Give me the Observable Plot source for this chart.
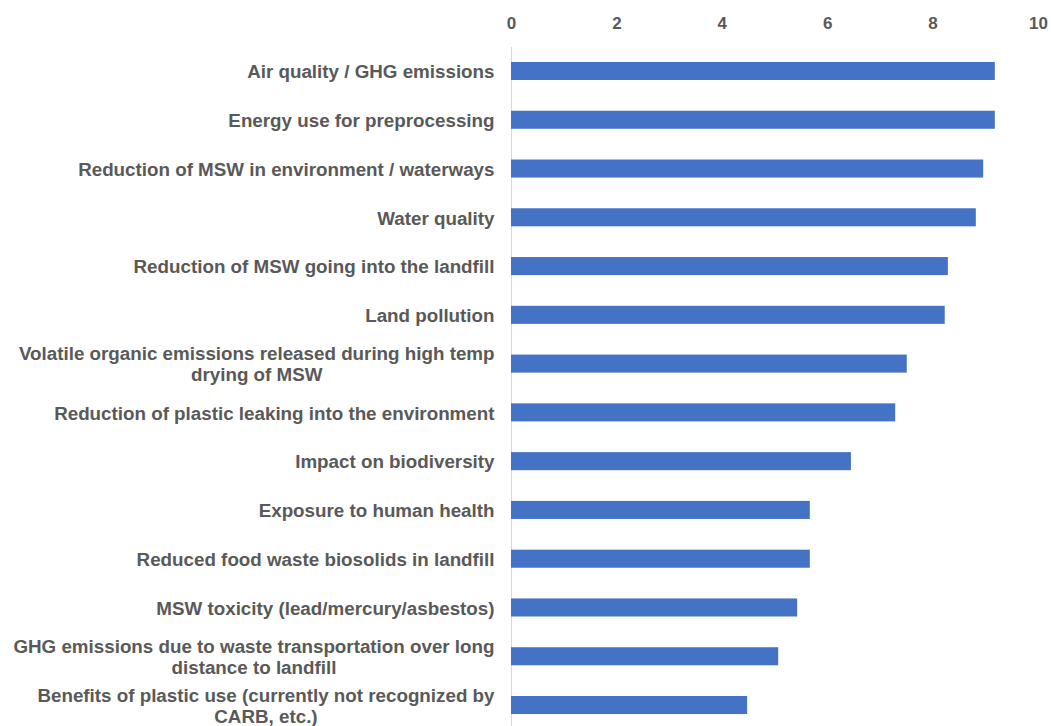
<!DOCTYPE html>
<html><head><meta charset="utf-8">
<script src="https://cdn.jsdelivr.net/npm/d3@7"></script>
<script src="https://cdn.jsdelivr.net/npm/@observablehq/plot@0.6"></script>
<style>body{margin:0;background:#fff;overflow:hidden}</style>
</head><body><div id="chart"></div>
<script>
const categories = [
  "Air quality / GHG emissions",
  "Energy use for preprocessing",
  "Reduction of MSW in environment / waterways",
  "Water quality",
  "Reduction of MSW going into the landfill",
  "Land pollution",
  "Volatile organic emissions released during high temp\ndrying of MSW",
  "Reduction of plastic leaking into the environment",
  "Impact on biodiversity",
  "Exposure to human health",
  "Reduced food waste biosolids in landfill",
  "MSW toxicity (lead/mercury/asbestos)",
  "GHG emissions due to waste transportation over long\ndistance to landfill",
  "Benefits of plastic use (currently not recognized by\nCARB, etc.)"
];
const values = [9.18, 9.18, 8.96, 8.82, 8.29, 8.23, 7.51, 7.29, 6.45, 5.67, 5.67, 5.43, 5.07, 4.48];
const xTicks = [0, 2, 4, 6, 8, 10];

const data = categories.map((c, i) => ({category: c, value: values[i]}));

const FS = 18.8;
const FAMILY = "'Liberation Sans', Arial, Helvetica, sans-serif";
const ctx = document.createElement("canvas").getContext("2d");
ctx.font = `bold ${FS}px ${FAMILY}`;
const maxLineWidth = s => Math.max(...s.split("\n").map(l => ctx.measureText(l).width));

const labelMarks = data.map(d => Plot.text([d], {
  x: 0, y: "category", text: "category",
  textAnchor: "middle", lineAnchor: "middle", lineHeight: 21 / FS,
  dx: -(17 + maxLineWidth(d.category) / 2),
  fill: "#595959", fontSize: FS, fontWeight: "bold"
}));

const chart = Plot.plot({
  width: 1051, height: 726,
  marginLeft: 511, marginRight: 13, marginTop: 47, marginBottom: 0,
  style: {fontFamily: FAMILY, fontWeight: "bold", color: "#595959", background: "#fff", overflow: "visible"},
  x: {domain: [0, 10], axis: null, label: null},
  y: {domain: categories, range: [46.6, 729.4], paddingInner: 0.63, paddingOuter: 0.315, round: false, axis: null},
  marks: [
    Plot.axisX({anchor: "top", ticks: xTicks, tickSize: 0, tickPadding: 19, label: null, fontSize: 17, fill: "#595959", fontWeight: "bold"}),
    Plot.ruleX([0], {stroke: "#d9d9d9", strokeWidth: 1}),
    Plot.barX(data, {x: "value", y: "category", fill: "#4472C4"}),
    ...labelMarks
  ]
});
document.getElementById("chart").appendChild(chart);
</script>
</body></html>
